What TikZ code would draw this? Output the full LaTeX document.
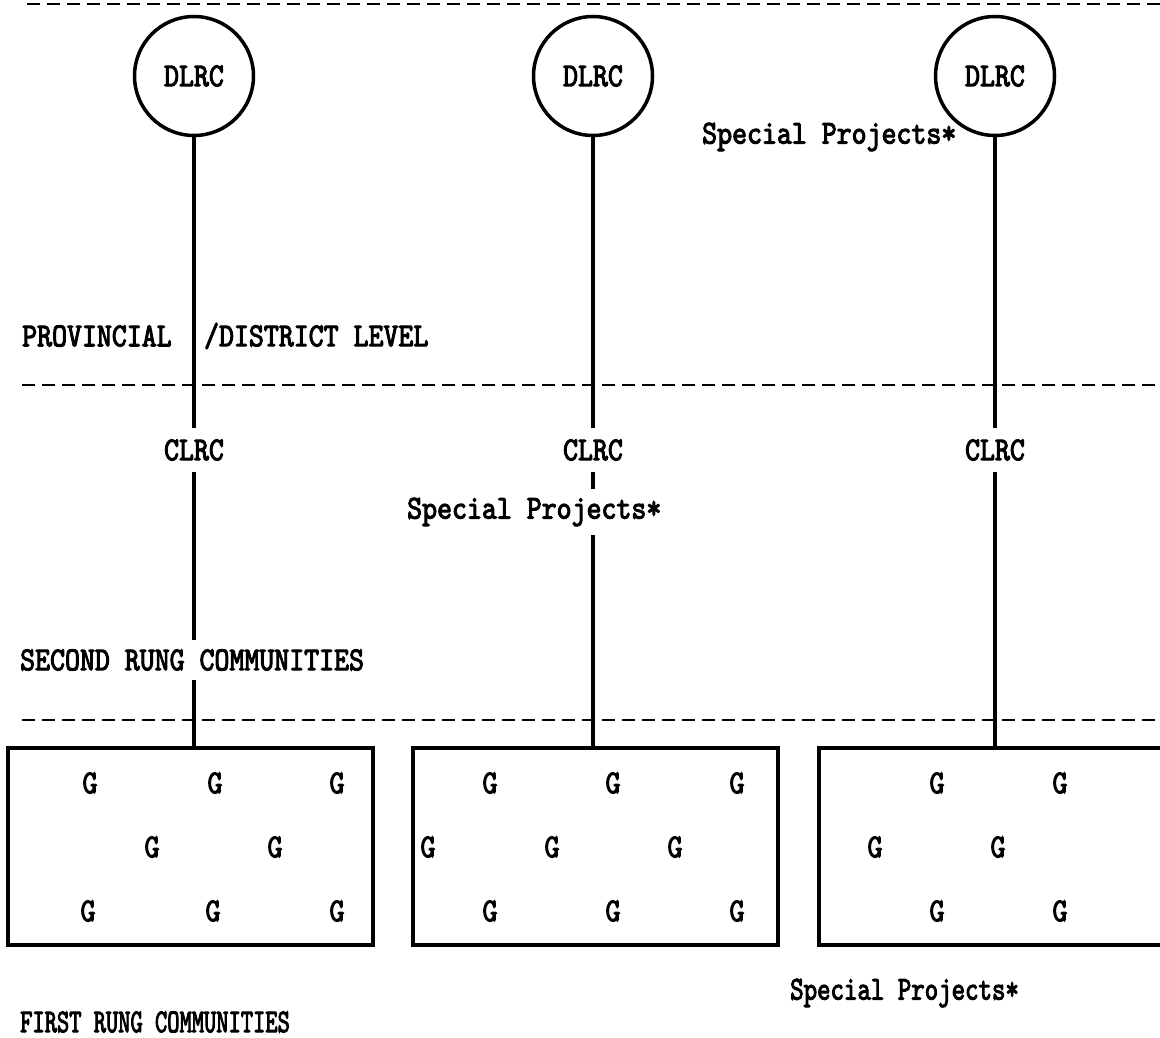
\documentclass[tikz,border=0pt]{standalone}
\usepackage{fontspec}
\usepackage{graphicx}
\newfontfamily\typewriter[FakeBold=3, FakeStretch=0.85]{lmmono10-regular.otf}
\usetikzlibrary{positioning}

\tikzset{
  level/.style={line width=2.5pt, dash pattern=on 13pt off 7pt},
  rung/.style={line width=3.5pt},
  tw/.style={font=\typewriter\fontsize{33.5}{33.5}\selectfont, inner sep=0pt},
  dlrc/.style={tw, circle, draw, line width=3.5pt, minimum size=119pt},
  hub/.style={tw, inner ysep=11pt},
  lbl/.style={tw, anchor=west, inner ysep=9pt},
  grp/.style={draw, line width=3.5pt, minimum width=365pt, minimum height=197pt, inner sep=0pt},
  gee/.style={tw},
}

\begin{document}
\begin{tikzpicture}[x=1pt,y=-1pt]
\useasboundingbox (0,0) rectangle (1160,1038);
\clip (0,0) rectangle (1160,1038);

% level lines
\draw[level] (27,4) -- (1160,4);
\draw[level] (22,385) -- (1160,385);
\draw[level] (22,720) -- (1160,720);

% district centres
\node[dlrc] (d1) at (194,76) {DLRC};
\node[dlrc] (d2) at (593,76) {DLRC};
\node[dlrc] (d3) at (995,76) {DLRC};
\node[lbl] (sp1) at (702,137) {Special Projects*};

% level names
\node[lbl] (prov) at (22,336) {PROVINCIAL};
\node[lbl, right=32pt of prov] (dist) {/DISTRICT LEVEL};
\node[lbl] (second) at (20,660) {SECOND RUNG COMMUNITIES};
\node[lbl] (first) at (20,1022) {\scalebox{0.82}[1]{FIRST RUNG COMMUNITIES}};

% centres at second rung
\node[hub] (c1) at (194,450) {CLRC};
\node[hub] (c2) at (593,450) {CLRC};
\node[hub] (c3) at (995,450) {CLRC};
\node[lbl] (sp2) at (407,512) {Special Projects*};

% first rung groups
\node[grp] (b1) at (190.5,846.5) {};
\node[grp] (b2) at (595.5,846.5) {};
\node[grp] (b3) at (1001.5,846.5) {};
\node[lbl] (sp3) at (790,993) {\scalebox{0.9}[1]{Special Projects*}};

\foreach \gx/\gy [count=\i] in {90/783,215/783,337/783,152/847,275/847,88/911,213/911,337/911}
  \node[gee] (g1-\i) at (\gx,\gy) {G};
\foreach \gx/\gy [count=\i] in {490/783,613/783,737/783,428/847,552/847,675/847,490/911,613/911,737/911}
  \node[gee] (g2-\i) at (\gx,\gy) {G};
\foreach \gx/\gy [count=\i] in {937/783,1060/783,875/847,998/847,937/911,1060/911}
  \node[gee] (g3-\i) at (\gx,\gy) {G};

% links
\draw[rung] (d1) -- (c1);
\draw[rung] (c1) -- (c1 |- second.north);
\draw[rung] (c1 |- second.south) -- (c1 |- b1.north);
\draw[rung] (d2) -- (c2);
\draw[rung] (c2) -- (c2 |- sp2.north);
\draw[rung] (c2 |- sp2.south) -- (c2 |- b2.north);
\draw[rung] (d3) -- (c3);
\draw[rung] (c3) -- (c3 |- b3.north);
\end{tikzpicture}
\end{document}
